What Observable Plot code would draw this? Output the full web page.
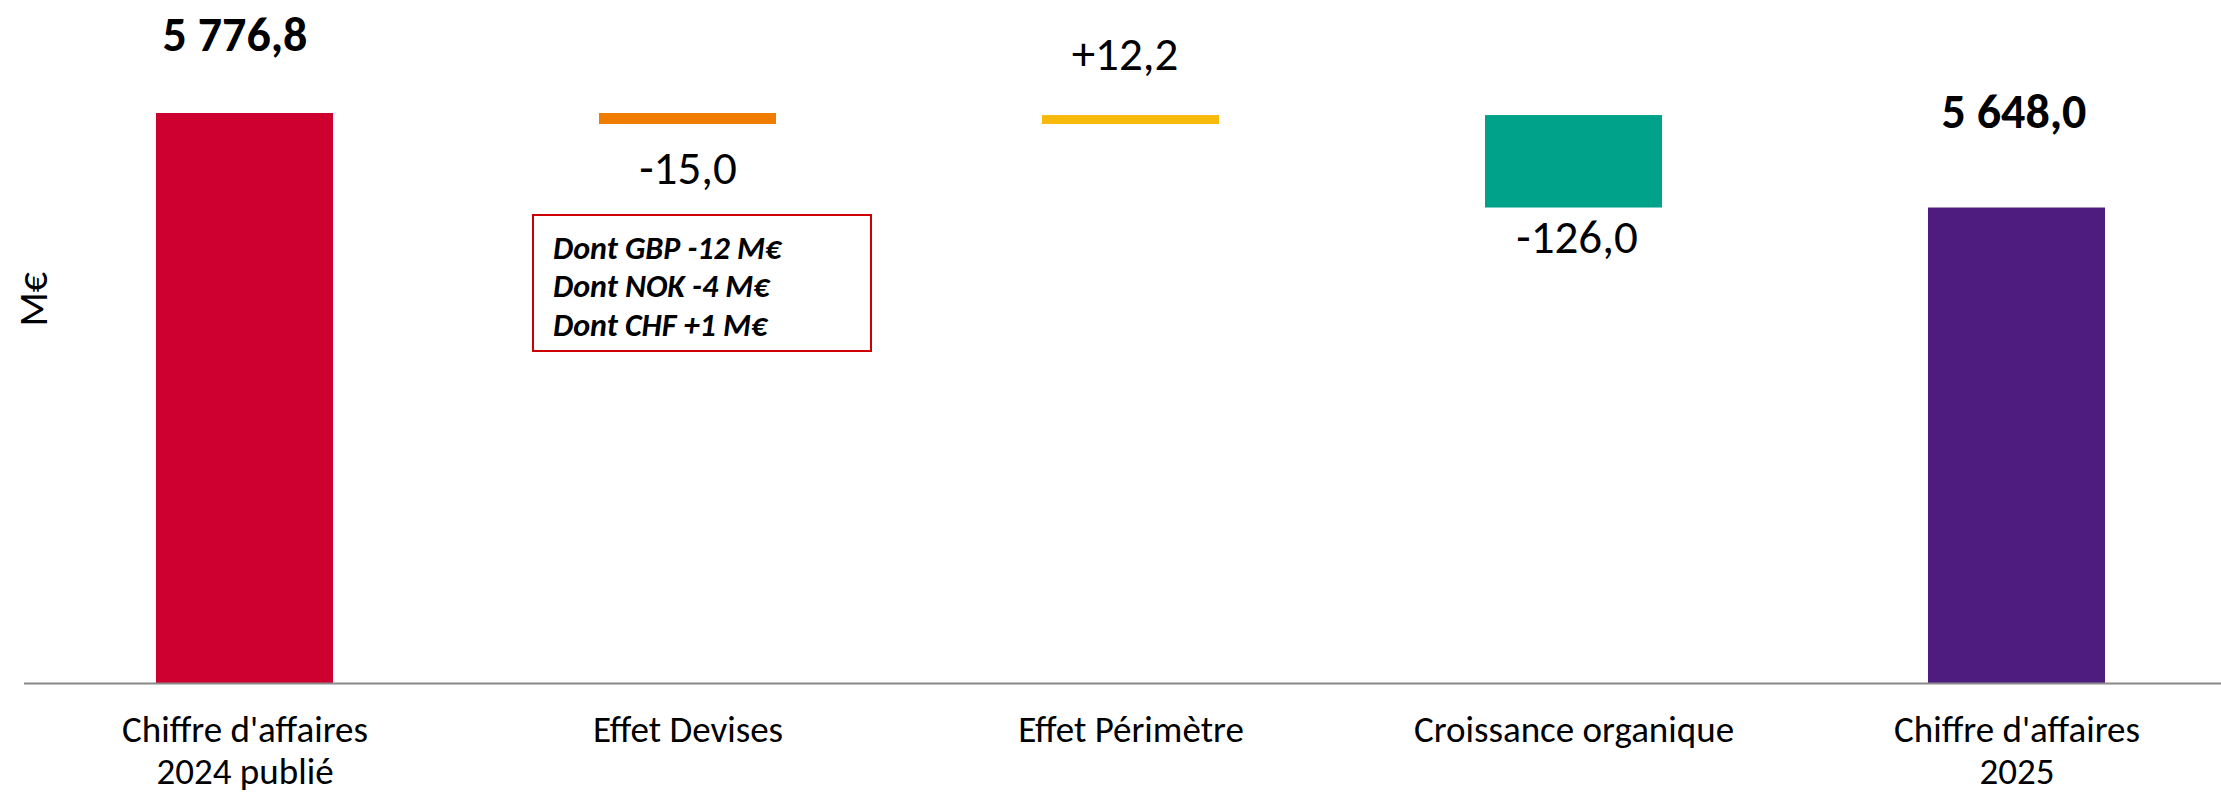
<!DOCTYPE html>
<html>
<head>
<meta charset="utf-8">
<script src="https://cdn.jsdelivr.net/npm/d3@7"></script>
<script src="https://cdn.jsdelivr.net/npm/@observablehq/plot@0.6"></script>
<style>
  html, body { margin: 0; padding: 0; background: #ffffff; }
  #chart svg { display: block; }
</style>
</head>
<body>
<div id="chart"></div>
<script>
// ---- Data ----
const categories = [
  "Chiffre d'affaires\n2024 publié",
  "Effet Devises",
  "Effet Périmètre",
  "Croissance organique",
  "Chiffre d'affaires\n2025"
];
const values = [5776.8, -15.0, 12.2, -126.0, 5648.0];
const kinds = ["total", "delta", "delta", "delta", "total"];
const barColors = ["#CE0030", "#F07D00", "#F7B90C", "#00A38A", "#4E1C7F"];
const yAxisLabel = "M€";
const yBase = 5000; // truncated axis baseline
const annotationLines = ["Dont GBP -12 M€", "Dont NOK -4 M€", "Dont CHF +1 M€"];
const annotationCategory = "Effet Devises";

// ---- Layout / style (not data) ----
const labelDy = [-78, 44, -61, 30, -95];
const labelDx = [-10, 0, -6, 3, -3];
const FONT = "Carlito, Calibri, Lato, sans-serif";

// ---- Build waterfall rows ----
const loc = d3.formatLocale({decimal: ",", thousands: "\u00a0", grouping: [3], currency: ["", "€"], minus: "-"});
const fmtTotal = loc.format(",.1f");
const fmtDelta = loc.format("+,.1f");
let running = 0;
const rows = categories.map((cat, i) => {
  let start, end;
  if (kinds[i] === "total") {
    start = yBase; end = values[i]; running = values[i];
  } else {
    start = running; end = running + values[i]; running = end;
  }
  const top = Math.max(start, end), bottom = Math.min(start, end);
  const labelY = (kinds[i] === "total" || values[i] >= 0) ? top : bottom;
  return {
    cat, start, end, color: barColors[i], kind: kinds[i],
    label: kinds[i] === "total" ? fmtTotal(values[i]) : fmtDelta(values[i]),
    labelY, dy: labelDy[i], dx: labelDx[i]
  };
});
const annotRow = rows.find(r => r.cat === annotationCategory);

// Annotation box drawn through the plot's own scales
function annotationBox(index, scales) {
  const sx = scales.x, sy = scales.y;
  const x0 = sx(annotRow.cat);
  const bw = typeof sx.bandwidth === "function" ? sx.bandwidth() : (sx.bandwidth ?? 177);
  const yEnd = sy(Math.min(annotRow.start, annotRow.end));
  const g = d3.create("svg:g");
  g.append("rect")
    .attr("x", x0 - 66)
    .attr("y", yEnd + 91)
    .attr("width", bw + 161)
    .attr("height", 136)
    .attr("fill", "none")
    .attr("stroke", "#CC0000")
    .attr("stroke-width", 2);
  return g.node();
}

const chart = Plot.plot({
  width: 2221,
  height: 792,
  marginTop: 113,
  marginBottom: 109,
  marginLeft: 24,
  marginRight: 0,
  style: {fontFamily: FONT, background: "#ffffff", color: "#000000"},
  x: {type: "band", domain: categories, range: [23.5, 2238.5], paddingInner: 0.6, paddingOuter: 0.3, axis: null},
  y: {domain: [yBase, d3.max(values)], axis: null},
  color: {type: "identity"},
  marks: [
    Plot.barY(rows, {x: "cat", y1: "start", y2: "end", fill: "color"}),
    Plot.ruleY([yBase], {stroke: "#898989", strokeWidth: 2}),
    // value labels
    ...rows.map((r) => Plot.text([r], {x: "cat", y: "labelY", text: "label",
      dy: r.dy, dx: r.dx, fontSize: r.kind === "total" ? 48 : 47,
      fontWeight: r.kind === "total" ? "bold" : "normal", fill: "#000", lineAnchor: "middle"})),
    // x category labels
    Plot.text(categories, {x: (d) => d, frameAnchor: "bottom", dy: 28, lineAnchor: "top",
      fontSize: 37, lineHeight: 1.15, fill: "#000"}),
    // y axis title
    Plot.text([yAxisLabel], {frameAnchor: "left", rotate: -90, dx: 10, dy: -72, fontSize: 40, fill: "#000"}),
    // annotation
    annotationBox,
    Plot.text([annotationLines.join("\n")], {x: () => annotRow.cat, y: () => Math.min(annotRow.start, annotRow.end),
      dx: -135, dy: 107, textAnchor: "start", lineAnchor: "top", fontSize: 32, fontWeight: "bold",
      fontStyle: "italic", lineHeight: 1.2, fill: "#000"})
  ]
});
document.getElementById("chart").appendChild(chart);
</script>
</body>
</html>
